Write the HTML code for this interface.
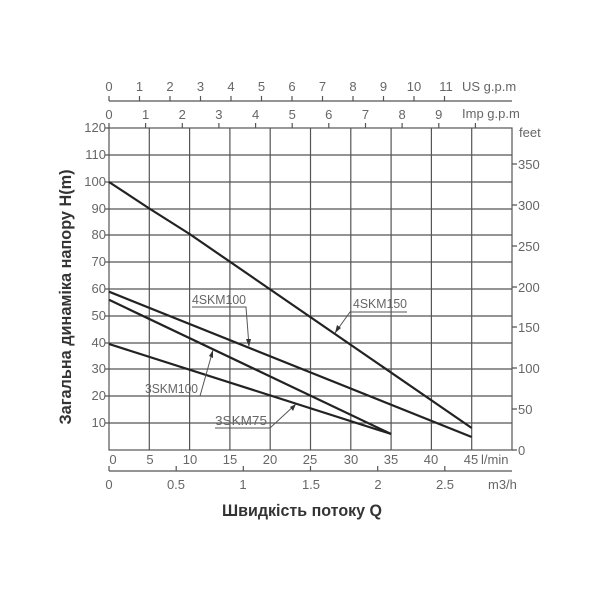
<!DOCTYPE html>
<html><head><meta charset="utf-8"><style>body{margin:0;background:#fff}svg{display:block}text{font-family:"Liberation Sans","DejaVu Sans",sans-serif;fill:#666}</style></head><body>
<svg width="600" height="600" viewBox="0 0 600 600" xmlns="http://www.w3.org/2000/svg">
<g stroke="#555" stroke-width="1.2" fill="none">
<rect x="109" y="128" width="403" height="322"/>
<path d="M149.3 128V450M189.6 128V450M229.9 128V450M270.2 128V450M310.5 128V450M350.8 128V450M391.1 128V450M431.4 128V450M471.7 128V450"/>
<path d="M109 155H512M109 182H512M109 209H512M109 235H512M109 262H512M109 289H512M109 316H512M109 343H512M109 369H512M109 396H512M109 423H512"/>
<path d="M105 128H109M105 155H109M105 182H109M105 209H109M105 235H109M105 262H109M105 289H109M105 316H109M105 343H109M105 369H109M105 396H109M105 423H109"/>
<path d="M512 450H517M512 409H517M512 368H517M512 327H517M512 287H517M512 246H517M512 205H517M512 164H517"/>
<path d="M109 101H512M109 101v-5M139.5 101v-5M170 101v-5M200.5 101v-5M231 101v-5M261.5 101v-5M292 101v-5M322.5 101v-5M353 101v-5M383.5 101v-5M414 101v-5M444.5 101v-5"/>
<path d="M109 128v-5M145.6 128v-5M182.3 128v-5M218.9 128v-5M255.6 128v-5M292.2 128v-5M328.8 128v-5M365.5 128v-5M402.1 128v-5M438.8 128v-5M475.4 128v-5"/>
<path d="M109 471H512M109 471v-5M176.2 471v-5M243.3 471v-5M310.5 471v-5M377.7 471v-5M444.8 471v-5"/>
</g>
<g stroke="#222" stroke-width="2.2" fill="none">
<polyline points="109,182 149.3,208.5 189.6,234 471.7,428"/>
<polyline points="109,291.7 471.7,437"/>
<polyline points="109,299.8 391.1,434"/>
<polyline points="109,344 391.1,434"/>
</g>
<g stroke="#555" stroke-width="1" fill="none">
<path d="M192 307H246L249 346"/>
<path d="M407 312H350L335 333"/>
<path d="M145 396H200L213 350"/>
<path d="M215 428H270L296 404"/>
</g>
<g fill="#333">
<path d="M249 347l-3-8 5 0z"/><path d="M335 333l2-8 4 3z"/><path d="M213 350l0 8-4-2z"/><path d="M296 404l-3 7-3-4z"/>
</g>
<g font-size="12.5">
<text x="192" y="304" textLength="54" lengthAdjust="spacingAndGlyphs">4SKM100</text>
<text x="353" y="308" textLength="54" lengthAdjust="spacingAndGlyphs">4SKM150</text>
<text x="145" y="393" textLength="53" lengthAdjust="spacingAndGlyphs">3SKM100</text>
<text x="215" y="425" textLength="52" lengthAdjust="spacingAndGlyphs">3SKM75</text>
</g>
<g font-size="13" text-anchor="end">
<text x="106" y="132">120</text><text x="106" y="159">110</text><text x="106" y="186">100</text><text x="106" y="213">90</text><text x="106" y="239">80</text><text x="106" y="266">70</text><text x="106" y="293">60</text><text x="106" y="320">50</text><text x="106" y="347">40</text><text x="106" y="373">30</text><text x="106" y="400">20</text><text x="106" y="427">10</text>
</g>
<g font-size="13">
<text x="519" y="137">feet</text>
<text x="518" y="169">350</text><text x="518" y="210">300</text><text x="518" y="251">250</text><text x="518" y="292">200</text><text x="518" y="332">150</text><text x="518" y="373">100</text><text x="518" y="414">50</text><text x="518" y="455">0</text>
<text x="481" y="464">l/min</text>
<text x="488" y="489">m3/h</text>
<text x="462" y="91">US g.p.m</text>
<text x="462" y="118">Imp g.p.m</text>
</g>
<g font-size="13" text-anchor="middle">
<text x="113" y="464">0</text><text x="150" y="464">5</text><text x="190" y="464">10</text><text x="230" y="464">15</text><text x="270" y="464">20</text><text x="310" y="464">25</text><text x="351" y="464">30</text><text x="391" y="464">35</text><text x="431" y="464">40</text><text x="471" y="464">45</text>
<text x="109" y="489">0</text><text x="176" y="489">0.5</text><text x="243" y="489">1</text><text x="311" y="489">1.5</text><text x="378" y="489">2</text><text x="445" y="489">2.5</text>
<text x="109" y="91">0</text><text x="139.5" y="91">1</text><text x="170" y="91">2</text><text x="200.5" y="91">3</text><text x="231" y="91">4</text><text x="261.5" y="91">5</text><text x="292" y="91">6</text><text x="322.5" y="91">7</text><text x="353" y="91">8</text><text x="383.5" y="91">9</text><text x="414" y="91">10</text><text x="446" y="91">11</text>
<text x="109" y="119">0</text><text x="145.6" y="119">1</text><text x="182.3" y="119">2</text><text x="218.9" y="119">3</text><text x="255.6" y="119">4</text><text x="292.2" y="119">5</text><text x="328.8" y="119">6</text><text x="365.5" y="119">7</text><text x="402.1" y="119">8</text><text x="438.8" y="119">9</text>
</g>
<text x="302" y="516" font-size="17" font-weight="bold" text-anchor="middle" style="fill:#333" textLength="160" lengthAdjust="spacingAndGlyphs">Швидкість потоку Q</text>
<text transform="translate(71,297) rotate(-90)" font-size="17" font-weight="bold" text-anchor="middle" style="fill:#333" textLength="255" lengthAdjust="spacingAndGlyphs">Загальна динаміка напору H(m)</text>
</svg>
</body></html>
